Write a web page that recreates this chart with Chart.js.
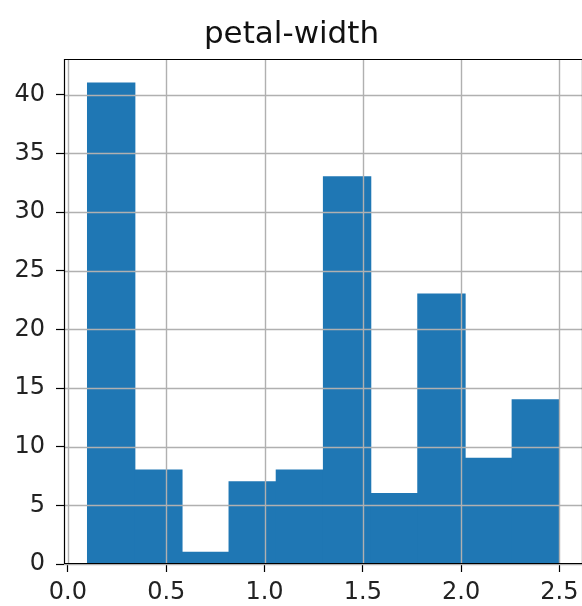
<!DOCTYPE html>
<html>
<head>
<meta charset="utf-8">
<script src="https://cdn.jsdelivr.net/npm/chart.js@4"></script>
<style>
  html, body { margin: 0; padding: 0; background: #fff; overflow: hidden; }
  #wrap { width: 590px; height: 606px; }
</style>
</head>
<body>
<div id="wrap"><canvas id="histo" width="590" height="606"></canvas></div>
<script>
// petal-width histogram (10 bins)
const binEdges = [0.1, 0.34, 0.58, 0.82, 1.06, 1.3, 1.54, 1.78, 2.02, 2.26, 2.5];
const counts = [41, 8, 1, 7, 8, 33, 6, 23, 9, 14];
const xTicks = [0.0, 0.5, 1.0, 1.5, 2.0, 2.5];
const titre = 'petal-width';

const BLEU = '#1f77b4';
const GRILLE = '#b0b0b0';

// one point per bin, placed at the middle of the bin
const points = counts.map((c, i) => ({ x: (binEdges[i] + binEdges[i + 1]) / 2, y: c }));

// grid above the bars + spines, like matplotlib
const grillePlugin = {
    id: 'grilleDessus',
    afterDatasetsDraw(chart) {
        const { ctx, chartArea: a, scales: { x, y } } = chart;
        ctx.save();
        ctx.strokeStyle = GRILLE;
        ctx.lineWidth = 1.4;
        x.ticks.forEach(t => {
            const px = Math.round(x.getPixelForValue(t.value)) + 0.5;
            ctx.beginPath(); ctx.moveTo(px, a.top); ctx.lineTo(px, a.bottom); ctx.stroke();
        });
        y.ticks.forEach(t => {
            const py = Math.round(y.getPixelForValue(t.value)) + 0.5;
            ctx.beginPath(); ctx.moveTo(a.left, py); ctx.lineTo(a.right, py); ctx.stroke();
        });
        ctx.strokeStyle = '#000';
        ctx.lineWidth = 1.2;
        ctx.beginPath();
        ctx.moveTo(a.left, a.top + 0.5); ctx.lineTo(a.right, a.top + 0.5);
        ctx.moveTo(a.right - 0.5, a.top); ctx.lineTo(a.right - 0.5, a.bottom);
        ctx.moveTo(a.left + 0.5, a.top); ctx.lineTo(a.left + 0.5, a.bottom);
        ctx.moveTo(a.left, a.bottom - 0.5); ctx.lineTo(a.right, a.bottom - 0.5);
        ctx.stroke();
        ctx.restore();
    }
};

new Chart(document.getElementById('histo'), {
    type: 'bar',
    data: {
        datasets: [{
            data: points,
            backgroundColor: BLEU,
            borderWidth: 0,
            inflateAmount: 0.6,
            barPercentage: 1.0,
            categoryPercentage: 1.0
        }]
    },
    options: {
        responsive: false,
        animation: false,
        layout: { padding: { left: 0, right: 7, top: 0, bottom: 0 } },
        plugins: {
            legend: { display: false },
            tooltip: { enabled: false },
            title: {
                display: true,
                text: titre,
                color: '#111',
                font: { family: 'DejaVu Sans', size: 31, weight: 'normal', lineHeight: 1.2 },
                padding: { top: 16.6, bottom: 5.2 }
            }
        },
        scales: {
            x: {
                type: 'linear',
                min: -0.02,
                max: 2.62,
                offset: false,
                afterBuildTicks: s => { s.ticks = xTicks.map(v => ({ value: v })); },
                afterFit: s => { s.height = 42; },
                ticks: {
                    autoSkip: false,
                    maxRotation: 0,
                    padding: 6,
                    color: '#222',
                    font: { family: 'DejaVu Sans', size: 24 },
                    callback: v => v.toFixed(1)
                },
                grid: { display: true, drawOnChartArea: false, offset: false, tickLength: 8, tickColor: '#000', tickWidth: 1.2 },
                border: { display: true, color: '#000', width: 1 }
            },
            y: {
                min: 0,
                max: 43.05,
                afterFit: s => { s.width = 64; },
                ticks: {
                    stepSize: 5,
                    includeBounds: false,
                    padding: 11,
                    color: '#222',
                    font: { family: 'DejaVu Sans', size: 24 }
                },
                grid: { display: true, drawOnChartArea: false, tickLength: 8, tickColor: '#000', tickWidth: 1.2 },
                border: { display: true, color: '#000', width: 1 }
            }
        }
    },
    plugins: [grillePlugin]
});
</script>
</body>
</html>
